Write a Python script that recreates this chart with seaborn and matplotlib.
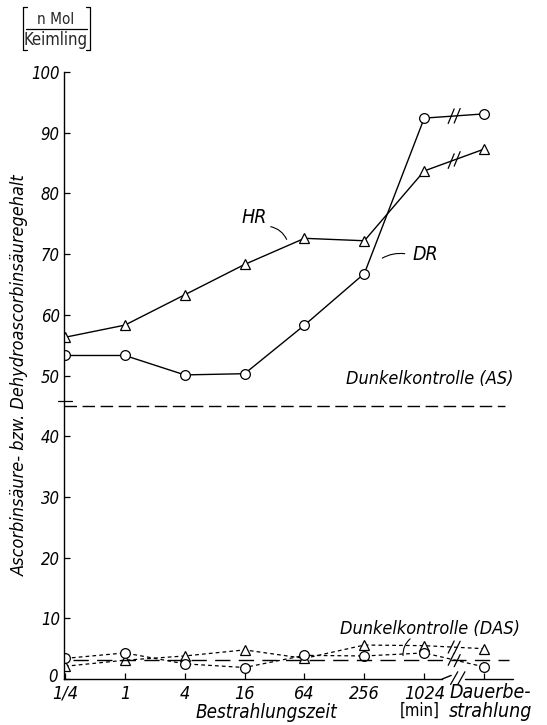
import numpy as np
import pandas as pd
import matplotlib
matplotlib.use("Agg")
import matplotlib.pyplot as plt
from matplotlib import font_manager
from matplotlib.lines import Line2D
from matplotlib.patches import FancyArrowPatch
from matplotlib.transforms import ScaledTranslation
import seaborn as sns

# irradiation times (categorical positions on the x axis)
times = ["1/4", "1", "4", "16", "64", "256", "1024", "Dauerbe-\nstrahlung"]

# ascorbic acid content after irradiation (nMol per seedling)
hr_values = [56.3, 58.3, 63.3, 68.3, 72.6, 72.2, 83.7, 87.3]
dr_values = [53.3, 53.3, 50.1, 50.3, 58.3, 66.8, 92.4, 93.1]

# dehydroascorbic acid content
das_tri = [2.1, 3.1, 3.8, 4.8, 3.4, 5.6, 5.5, 5.0]
das_circ = [3.4, 4.3, 2.5, 1.9, 3.9, 3.8, 4.3, 2.0]

# dark controls
dark_as = 45.0
dark_das = 3.2

y_ticks = [0, 10, 20, 30, 40, 50, 60, 70, 80, 90, 100]

sns.set_style("ticks")

# pick a narrow sans face for the lettering
def pick_font():
    names = {f.name for f in font_manager.fontManager.ttflist}
    for cand in ("Liberation Sans Narrow", "DejaVu Sans Condensed"):
        if cand in names:
            return cand, "normal"
    condensed = [f for f in font_manager.fontManager.ttflist
                 if f.name == "DejaVu Sans" and f.stretch == "condensed"]
    if condensed:
        return "DejaVu Sans", "condensed"
    return "Liberation Sans", "normal"

FACE, STRETCH = pick_font()
FONT = [FACE, "DejaVu Sans"]
plt.rcParams["font.family"] = FONT
plt.rcParams["font.stretch"] = STRETCH

pos = np.arange(len(times))
main_df = pd.DataFrame({
    "pos": np.concatenate([pos, pos]),
    "value": hr_values + dr_values,
    "series": ["HR"] * len(pos) + ["DR"] * len(pos),
})
das_df = pd.DataFrame({
    "pos": np.concatenate([pos, pos]),
    "value": das_tri + das_circ,
    "series": ["tri"] * len(pos) + ["circ"] * len(pos),
})

fig = plt.figure(figsize=(5.47, 7.25), dpi=100)
ax = fig.add_axes([0.117, 0.0634, 0.821, 0.8373])

mk = dict(markerfacecolor="white", markeredgecolor="black",
          markeredgewidth=0.9, markersize=7)

sns.lineplot(data=main_df, x="pos", y="value", hue="series", style="series",
             palette={"HR": "black", "DR": "black"},
             markers={"HR": "^", "DR": "o"}, dashes=False,
             linewidth=1.0, legend=False, ax=ax, **mk)

sns.lineplot(data=das_df, x="pos", y="value", hue="series", style="series",
             palette={"tri": "black", "circ": "black"},
             markers={"tri": "^", "circ": "o"},
             dashes={"tri": (3, 2.5), "circ": (3, 2.5)},
             linewidth=0.9, legend=False, ax=ax, **mk)

# dark control levels
ax.axhline(dark_as, xmin=0, xmax=0.982, color="black", lw=1.0, dashes=(9, 4))
ax.axhline(dark_das, xmin=0.02, xmax=0.99, color="black", lw=1.0, dashes=(11, 6))
ax.plot([-0.12, 0.12], [dark_as + 0.8, dark_as + 0.8], color="black", lw=0.9,
        clip_on=False)

ital = dict(style="italic", family=FONT, stretch=STRETCH, color="black")

ax.set_xlim(-0.017, 7.484)
ax.set_ylim(0, 100)
ax.set_yticks(y_ticks)
ax.set_yticklabels([str(t) for t in y_ticks], fontsize=12, **ital)
ax.set_xticks(pos)
ax.set_xticklabels(times[:-1] + [""], fontsize=13, **ital)
ax.tick_params(axis="both", direction="in", length=4, width=0.9, pad=3,
               colors="black")
ax.tick_params(axis="x", pad=4)
for s in ["top", "right"]:
    ax.spines[s].set_visible(False)
for s in ["left", "bottom"]:
    ax.spines[s].set_linewidth(1.0)
    ax.spines[s].set_color("black")
ax.set_xlabel("")
ax.set_ylabel("Ascorbinsäure- bzw. Dehydroascorbinsäuregehalt", fontsize=13,
              labelpad=2, **ital)

# lift the zero label a little off the baseline
zero_lbl = ax.get_yticklabels()[0]
zero_lbl.set_transform(zero_lbl.get_transform()
                       + ScaledTranslation(-2 / 100, 4 / 100, fig.dpi_scale_trans))

# broken x axis between 1024 and continuous irradiation
ax.spines["bottom"].set_bounds(-0.017, 6.3)
ax.plot([6.3, 6.45], [0, 0.6], color="black", lw=1.0, clip_on=False)
ax.plot([6.68, 7.484], [0, 0], color="black", lw=1.0, clip_on=False)
for dx in (6.5, 6.62):
    ax.plot([dx - 0.06, dx + 0.06], [-0.9, 1.2], color="black", lw=0.9,
            clip_on=False)

# break marks on each connecting segment between 1024 and Dauer
def break_mark(y0, y1, dy):
    xm = 6.5
    ym = (y0 + y1) / 2
    for off in (-0.05, 0.05):
        ax.plot([xm + off - 0.05, xm + off + 0.05],
                [ym + off * (y1 - y0) - dy, ym + off * (y1 - y0) + dy],
                color="black", lw=0.9)

break_mark(dr_values[6], dr_values[7], 1.2)
break_mark(hr_values[6], hr_values[7], 1.2)
break_mark(das_tri[6], das_tri[7], 1.0)
break_mark(das_circ[6], das_circ[7], 1.0)

# series labels with leader lines
ax.text(3.16, 76.1, "HR", fontsize=14, ha="center", va="center", **ital)
ax.add_patch(FancyArrowPatch((3.39, 74.6), (3.72, 72.0),
                             connectionstyle="arc3,rad=-0.3",
                             arrowstyle="-", lw=0.8, color="black"))
ax.text(5.80, 69.9, "DR", fontsize=14, ha="left", va="center", **ital)
ax.add_patch(FancyArrowPatch((5.26, 69.1), (5.72, 70.0),
                             connectionstyle="arc3,rad=-0.2",
                             arrowstyle="-", lw=0.8, color="black"))
ax.text(4.69, 49.4, "Dunkelkontrolle (AS)", fontsize=13, ha="left",
        va="center", **ital)
ax.text(4.59, 8.3, "Dunkelkontrolle (DAS)", fontsize=13, ha="left",
        va="center", **ital)
ax.add_patch(FancyArrowPatch((5.80, 6.9), (5.65, 3.4),
                             connectionstyle="arc3,rad=0.3",
                             arrowstyle="-", lw=0.8, color="black"))

# axis captions below the ticks
ax.text(3.36, -5.5, "Bestrahlungszeit", fontsize=13.5, ha="center",
        va="center", **ital)
ax.text(5.92, -5.2, "[min]", fontsize=12, ha="center", va="center",
        family=FONT, stretch=STRETCH, color="black")
ax.text(7.1, -3.8, times[-1], fontsize=14, ha="center", va="center",
        linespacing=0.95, **ital)

# unit of the y axis
fig.text(56 / 547, 1 - 19 / 725, "n Mol", fontsize=11, ha="center",
         va="center", family=FONT, stretch=STRETCH)
fig.text(56 / 547, 1 - 40 / 725, "Keimling", fontsize=12, ha="center",
         va="center", family=FONT, stretch=STRETCH)
fig.add_artist(Line2D([26 / 547, 87 / 547], [1 - 29 / 725, 1 - 29 / 725],
                      color="black", lw=0.9))
for xb, d in ((23, 4), (90, -4)):
    fig.add_artist(Line2D([(xb + d) / 547, xb / 547, xb / 547, (xb + d) / 547],
                          [1 - 7 / 725, 1 - 7 / 725, 1 - 50 / 725, 1 - 50 / 725],
                          color="black", lw=0.9))

fig.savefig("out.png", dpi=100)
